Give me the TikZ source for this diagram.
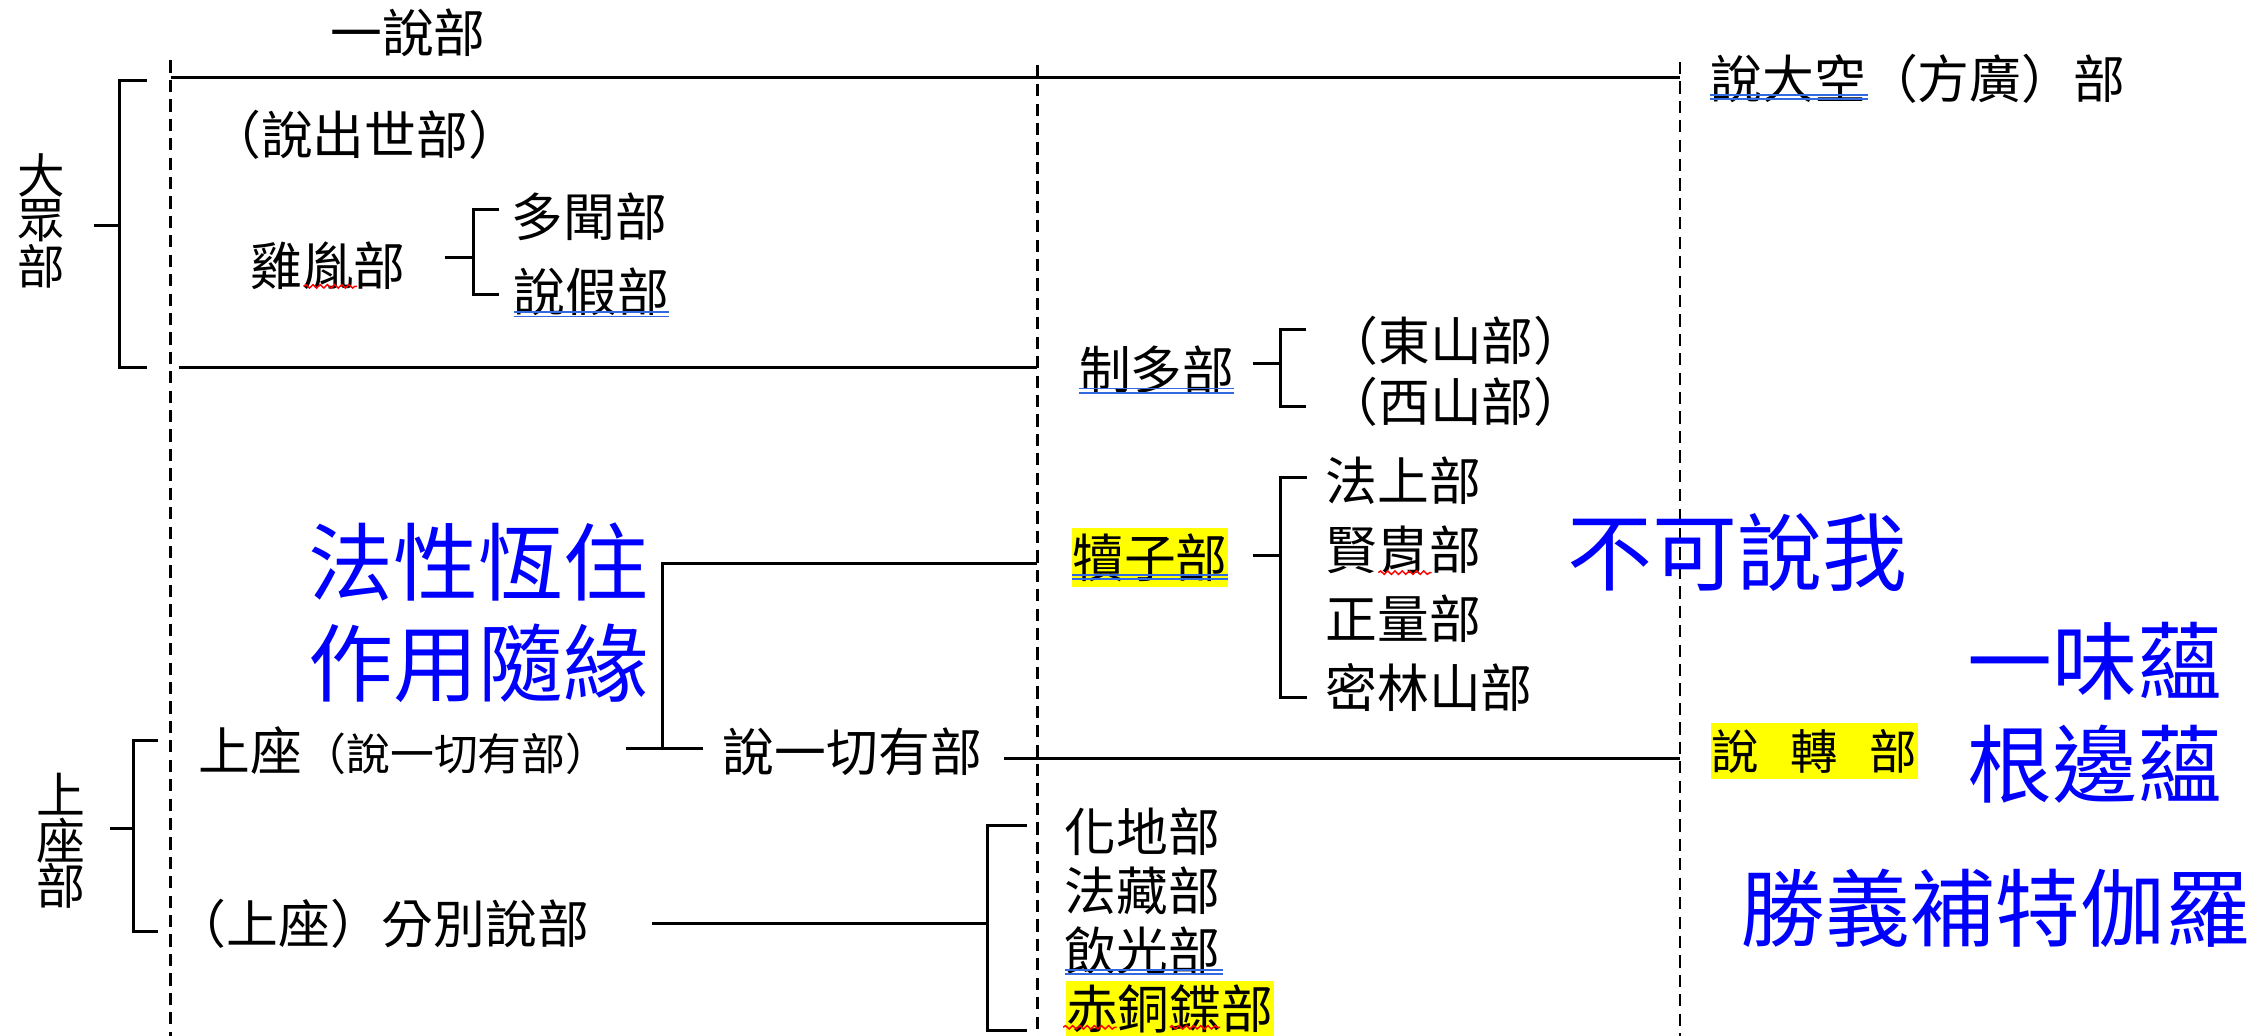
\documentclass[tikz,border=0pt]{standalone}
\usepackage{fontspec}
\setmainfont{Noto Sans CJK TC}
\usetikzlibrary{decorations.pathmorphing}
\definecolor{ulblue}{RGB}{50,105,225}
\definecolor{hl}{RGB}{255,255,0}
\definecolor{bigblue}{RGB}{0,0,255}
\begin{document}
\begin{tikzpicture}[x=1pt,y=-1pt,
  lab/.style={inner sep=0pt,font=\fontsize{36}{40}\selectfont},
  vlab/.style={inner sep=0pt,font=\fontsize{33}{36}\selectfont},
  big/.style={inner sep=0pt,text=bigblue,font=\fontsize{59}{64}\selectfont},
  conn/.style={line width=2.1pt,line join=miter},
  guide/.style={line width=1.8pt,dash pattern=on 8.5pt off 5pt},
  ul/.style={ulblue,line width=1.3pt},
  wavy/.style={red,line width=1pt,decorate,decoration={snake,segment length=5pt,amplitude=1.2pt}},
  hlbox/.style={fill=hl,inner sep=0pt}]
\useasboundingbox (0,0) rectangle (1568,720);

% dashed guide lines
\coordinate (d1t) at (118.7,42);   \coordinate (d1b) at (118.7,722);
\coordinate (d2t) at (721,45);     \coordinate (d2b) at (721,722);
\coordinate (d3t) at (1167.7,43);  \coordinate (d3b) at (1167.7,722);
\draw[guide] (d1t) -- (d1b);
\draw[guide] (d2t) -- (d2b);
\draw[guide] (d3t) -- (d3b);

% highlighted boxes
\node[hlbox,lab,minimum width=108.5pt,minimum height=41pt] (duzi) at (799.25,387.5) {犢子部};
\node[hlbox,lab,anchor=west,minimum width=144.5pt,minimum height=38pt] (chitong) at (740.5,701) {赤銅鍱部};
\node[hlbox,font=\fontsize{33}{36}\selectfont,minimum width=144pt,minimum height=39pt] (shuozhuan) at (1261,522) {說\hspace{22pt}轉\hspace{22pt}部};

% plain labels
\node[lab] (yishuo) at (283.5,22.5) {一說部};
\node[lab] (dakong) at (1333,54.5) {說大空（方廣）部};
\node[vlab] (dz1) at (29,122) {大};
\node[vlab] (dz2) at (29,153.5) {眾};
\node[vlab] (dz3) at (29,185) {部};
\node[font=\fontsize{34}{36}\selectfont,inner sep=0pt] (sz1) at (42.5,551.6) {上};
\node[font=\fontsize{34}{36}\selectfont,inner sep=0pt] (sz2) at (42.5,584) {座};
\node[font=\fontsize{34}{36}\selectfont,inner sep=0pt] (sz3) at (42.5,615.5) {部};
\node[lab] (chushi) at (253.5,94) {（說出世部）};
\node[lab] (jiyin) at (228,185) {雞胤部};
\node[lab] (duowen) at (409.5,150.6) {多聞部};
\node[lab] (shuojia) at (411,203) {說假部};
\node[lab] (zhiduo) at (804,257) {制多部};
\node[lab] (dongshan) at (1012,236.6) {（東山部）};
\node[lab] (xishan) at (1012,279) {（西山部）};
\node[lab,anchor=west] (fashang) at (921,334) {法上部};
\node[lab,anchor=west] (xianzhou) at (921,382) {賢胄部};
\node[lab,anchor=west] (zhengliang) at (921,430) {正量部};
\node[lab,anchor=west] (milin) at (921,478) {密林山部};
\node[inner sep=0pt,anchor=west] (shangzuo) at (138,521.5)
  {{\fontsize{36}{40}\selectfont 上座}{\fontsize{30.5}{34}\selectfont （說一切有部）}};
\node[lab] (syq) at (592.5,522.5) {說一切有部};
\node[lab] (fenbie) at (265.5,642) {（上座）分別說部};
\node[lab,anchor=west] (huadi) at (740,578) {化地部};
\node[lab,anchor=west] (fazang) at (740,619) {法藏部};
\node[lab,anchor=west] (yinguang) at (740,661) {飲光部};

% big blue captions
\node[big] (faxing) at (332.5,390.5) {法性恆住};
\node[big] (zuoyong) at (332.5,461) {作用隨緣};
\node[big] (bukeshuo) at (1207.5,384) {不可說我};
\node[big] (yiwei) at (1456,459.5) {一味蘊};
\node[big] (genbian) at (1456,531) {根邊蘊};
\node[big] (shengyi) at (1387,631) {勝義補特伽羅};

% connectors
\coordinate (ysL) at (118.7,53.8); \coordinate (ysR) at (1167.7,53.8);
\draw[conn] (ysL) -- (ysR);

\coordinate (dzT) at (102,56); \coordinate (dzB) at (102,255.6); \coordinate (dzM) at (65,157);
\draw[conn] (dzT) -- (83,56) -- (83,255.6) -- (dzB);
\draw[conn] (dzM) -- (83,157);

\coordinate (zdL) at (124.7,255.6); \coordinate (zdR) at (721,255.6);
\draw[conn] (zdL) -- (zdR);

\coordinate (jyM) at (309,179); \coordinate (jyT) at (347,145.5); \coordinate (jyB) at (347,205);
\draw[conn] (jyM) -- (329,179);
\draw[conn] (jyT) -- (329,145.5) -- (329,205) -- (jyB);

\coordinate (zdM) at (871,252.6); \coordinate (zdT) at (908,229); \coordinate (zdBt) at (908,282.7);
\draw[conn] (zdM) -- (890,252.6);
\draw[conn] (zdT) -- (890,229) -- (890,282.7) -- (zdBt);

\coordinate (dzM2) at (871,386); \coordinate (dzT2) at (908.5,332); \coordinate (dzB2) at (908.5,485);
\draw[conn] (dzM2) -- (889.7,386);
\draw[conn] (dzT2) -- (889.7,332) -- (889.7,485) -- (dzB2);

\coordinate (fxR) at (721,391.4); \coordinate (fxJ) at (460.5,520);
\coordinate (tL) at (435,520); \coordinate (tR) at (488.6,520);
\draw[conn] (fxR) -- (460.5,391.4) -- (fxJ);
\draw[conn] (tL) -- (tR);

\coordinate (syL) at (698,527.5); \coordinate (syR) at (1167.7,527.5);
\draw[conn] (syL) -- (syR);

\coordinate (szT) at (110,515); \coordinate (szB) at (110,647.6); \coordinate (szM) at (76.5,576);
\draw[conn] (szT) -- (93,515) -- (93,647.6) -- (szB);
\draw[conn] (szM) -- (93,576);

\coordinate (fbL) at (453,642); \coordinate (fbT) at (713.5,574); \coordinate (fbB) at (713.5,716);
\draw[conn] (fbL) -- (686,642);
\draw[conn] (fbT) -- (686,574) -- (686,716) -- (fbB);

% blue double underlines
\foreach \xa/\xb/\yy in {357/465/217, 749.6/858/270, 1188.6/1298/66, 745/853.5/399.5, 740/850/674}{
  \draw[ul] (\xa,\yy) -- (\xb,\yy);
  \draw[ul] (\xa,\yy+3) -- (\xb,\yy+3);
}
% red wavy underlines
\draw[wavy] (211,199) -- (248,199);
\draw[wavy] (958,398) -- (995,398);
\draw[wavy] (739,714) -- (776,714);
\draw[wavy] (813,714) -- (848,714);
\end{tikzpicture}
\end{document}
